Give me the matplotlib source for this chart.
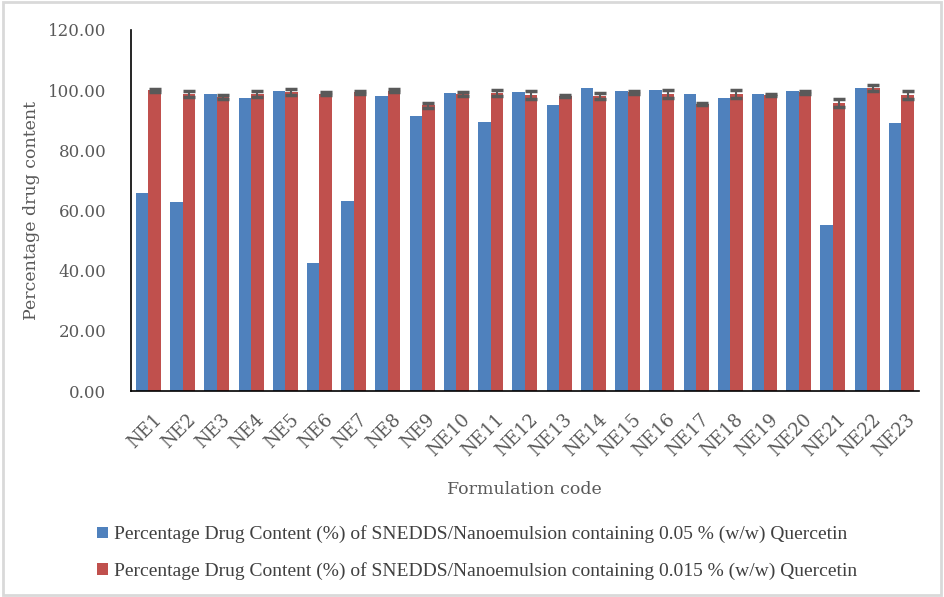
import numpy as np
import matplotlib
matplotlib.use("Agg")
import matplotlib.pyplot as plt
from matplotlib.patches import Rectangle

# -----------------------------
# data
# -----------------------------
codes = ["NE%d" % i for i in range(1, 24)]

content_005 = [65.8, 62.8, 98.7, 97.3, 99.7, 42.5, 63.1, 98.0, 91.4, 99.0,
               89.4, 99.3, 95.0, 100.7, 99.7, 100.0, 98.7, 97.3, 98.7, 99.7,
               55.1, 100.7, 89.0]

content_0015 = [100.0, 98.7, 97.7, 98.7, 99.3, 98.7, 99.3, 99.7, 95.0, 98.7,
                99.0, 98.3, 98.0, 98.0, 99.3, 98.7, 95.3, 98.7, 98.3, 99.3,
                95.6, 100.7, 98.3]

err_0015 = [0.5, 0.9, 0.8, 0.9, 0.9, 0.5, 0.5, 0.5, 0.8, 0.7,
            0.9, 1.4, 0.4, 1.0, 0.5, 1.3, 0.4, 1.2, 0.4, 0.5,
            1.3, 1.0, 1.4]

yticks = [0, 20, 40, 60, 80, 100, 120]

label_005 = "Percentage Drug Content (%) of SNEDDS/Nanoemulsion containing 0.05 % (w/w) Quercetin"
label_0015 = "Percentage Drug Content (%) of SNEDDS/Nanoemulsion containing 0.015 % (w/w) Quercetin"

BLUE = "#4f81bd"
RED = "#c0504d"
GREY = "#595959"

# -----------------------------
# figure
# -----------------------------
fig = plt.figure(figsize=(9.44, 5.97), dpi=100)
ax = fig.add_axes([0.139, 0.345, 0.834, 0.605])

x = np.arange(len(codes))
w = 0.365
ax.bar(x - w / 2, content_005, w, color=BLUE, label=label_005)
ax.bar(x + w / 2, content_0015, w, color=RED, label=label_0015)
ax.errorbar(x + w / 2, content_0015, yerr=err_0015, fmt="none",
            ecolor=GREY, elinewidth=1.5, capsize=4.5, capthick=2.5)

ax.set_xlim(-0.5, len(codes) - 0.5)
ax.set_ylim(0, 120)
ax.set_yticks(yticks)
ax.set_yticklabels(["%.2f" % v for v in yticks])
ax.set_xticks(x + 0.12)
ax.set_xticklabels(codes, rotation=45, ha="right", rotation_mode="anchor")

for s in ["top", "right"]:
    ax.spines[s].set_visible(False)
for s in ["left", "bottom"]:
    ax.spines[s].set_color("black")
    ax.spines[s].set_linewidth(1.2)

ax.tick_params(axis="both", length=0, colors=GREY)
ax.tick_params(axis="y", pad=18, labelsize=12)
ax.tick_params(axis="x", pad=14, labelsize=13)
for t in ax.get_xticklabels() + ax.get_yticklabels():
    t.set_family("DejaVu Serif")

ax.set_ylabel("Percentage drug content", family="DejaVu Serif", fontsize=12.5,
              color=GREY, labelpad=6)
ax.set_xlabel("Formulation code", family="DejaVu Serif", fontsize=12.5,
              color=GREY, labelpad=15)

leg = fig.legend(loc="upper left", bbox_to_anchor=(0.095, 0.133), frameon=False,
                 prop={"family": "Liberation Serif", "size": 14},
                 handlelength=0.55, handleheight=0.55, handletextpad=0.3,
                 labelspacing=0.95, labelcolor="#404040", borderaxespad=0)

# light grey frame around the whole chart
fig.add_artist(Rectangle((0.003, 0.004), 0.994, 0.992, transform=fig.transFigure,
                         fill=False, edgecolor="#d9d9d9", linewidth=2))

fig.savefig("out.png", dpi=100)
